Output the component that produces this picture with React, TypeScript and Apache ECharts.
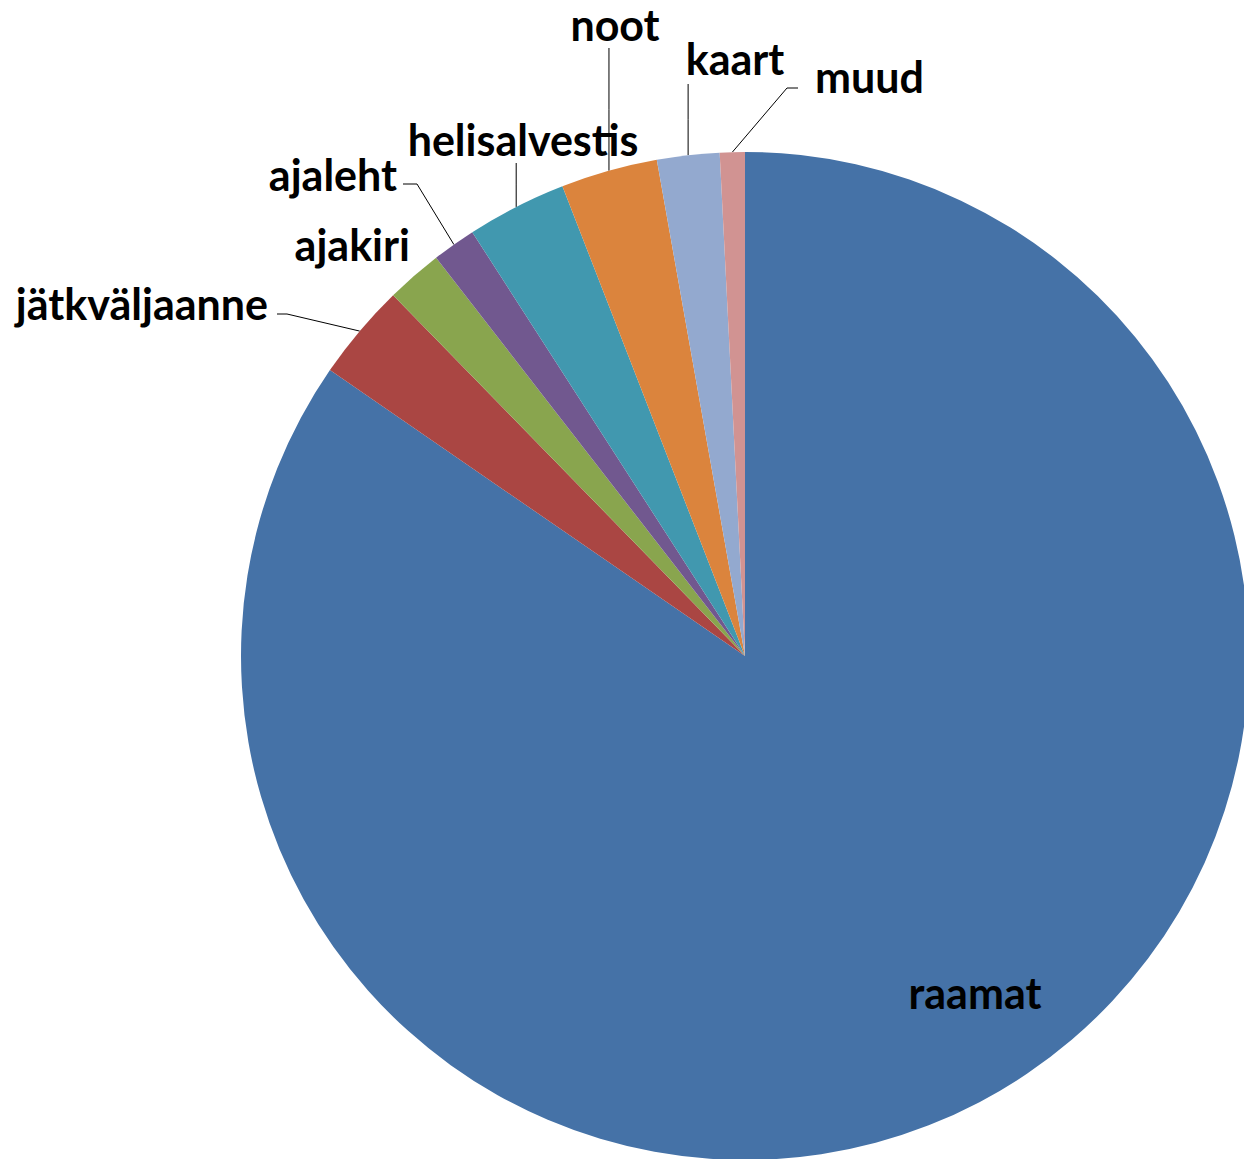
import React, { useEffect, useRef } from "react";
import * as echarts from "echarts";

// Data (share of total, %)
const categories = [
  "raamat",
  "jätkväljaanne",
  "ajakiri",
  "ajaleht",
  "helisalvestis",
  "noot",
  "kaart",
  "muud",
];
const values = [84.6, 3.1, 1.8, 1.4, 3.2, 3.1, 2.0, 0.8];
const colors = [
  "#4572A7",
  "#AA4643",
  "#89A54E",
  "#71588F",
  "#4198AF",
  "#DB843D",
  "#93A9CF",
  "#D19392",
];

// Label placement (layout only)
const CENTER: [number, number] = [745, 656];
const RADIUS = 504;
type Place = {
  x: number;
  y: number;
  align: "left" | "right" | "center";
  line: "none" | "elbow" | "vertical";
  bend?: [number, number];
  end?: [number, number];
  topY?: number;
  inside?: boolean;
};
const labelPlaces: Place[] = [
  { x: 975, y: 992, align: "center", line: "none", inside: true },
  { x: 268, y: 303, align: "right", line: "elbow", bend: [287, 314], end: [277, 314] },
  { x: 410, y: 244, align: "right", line: "none" },
  { x: 397, y: 174, align: "right", line: "elbow", bend: [417, 184], end: [403, 184] },
  { x: 523, y: 139, align: "center", line: "vertical", topY: 163 },
  { x: 615, y: 24, align: "center", line: "vertical", topY: 48 },
  { x: 735, y: 58, align: "center", line: "vertical", topY: 84 },
  { x: 815, y: 76, align: "left", line: "elbow", bend: [787, 88], end: [798, 88] },
];

function edgePoint(index: number): [number, number] {
  const total = values.reduce((a, b) => a + b, 0);
  let before = 0;
  for (let i = 0; i < index; i++) before += values[i];
  const mid = before + values[index] / 2;
  const ang = (90 - (mid / total) * 360) * (Math.PI / 180);
  return [CENTER[0] + RADIUS * Math.cos(ang), CENTER[1] - RADIUS * Math.sin(ang)];
}

export default function App() {
  const ref = useRef<HTMLDivElement>(null);

  useEffect(() => {
    if (!ref.current) return;
    const chart = echarts.init(ref.current, null, { renderer: "svg" });

    const data = categories.map((name, i) => {
      const p = labelPlaces[i];
      return {
        name,
        value: values[i],
        itemStyle: { color: colors[i] },
        label: { position: p.inside ? "inside" : "outside" },
        labelLine: { show: p.line !== "none" },
      };
    });

    chart.setOption({
      animation: false,
      backgroundColor: "#ffffff",
      series: [
        {
          type: "pie",
          center: CENTER,
          radius: RADIUS,
          startAngle: 90,
          clockwise: true,
          silent: true,
          avoidLabelOverlap: false,
          itemStyle: { borderWidth: 0 },
          label: {
            show: true,
            formatter: "{b}",
            fontFamily: "Lato, 'Open Sans', sans-serif",
            fontWeight: "bold",
            fontSize: 43,
            lineHeight: 43,
            color: "#000000",
          },
          labelLine: {
            show: true,
            lineStyle: { color: "#000000", width: 1 },
            length: 10,
            length2: 10,
          },
          labelLayout: (params: any) => {
            const i = params.dataIndex;
            const p = labelPlaces[i];
            const out: any = {
              x: p.x,
              y: p.y,
              align: p.align,
              verticalAlign: "middle",
            };
            if (p.line !== "none") {
              const s = edgePoint(i);
              if (p.line === "vertical") {
                out.labelLinePoints = [
                  [s[0], s[1]],
                  [s[0], (s[1] + (p.topY as number)) / 2],
                  [s[0], p.topY],
                ];
              } else {
                out.labelLinePoints = [s, p.bend, p.end];
              }
            }
            return out;
          },
          data,
        },
      ],
    });

    return () => chart.dispose();
  }, []);

  return (
    <div
      ref={ref}
      style={{ position: "absolute", left: 0, top: 0, width: 1244, height: 1159 }}
    />
  );
}
